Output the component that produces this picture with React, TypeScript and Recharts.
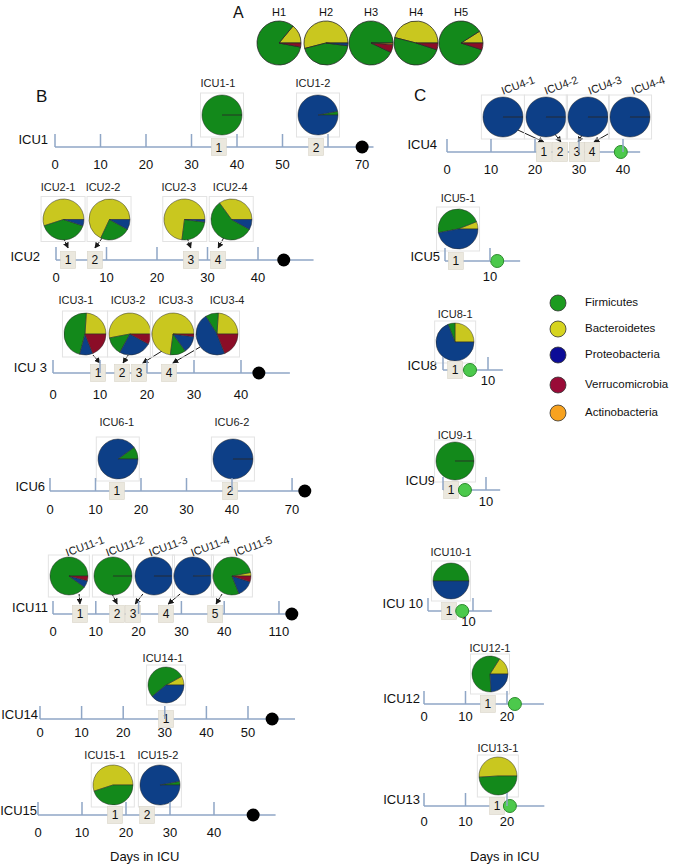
import React from 'react';
import { ComposedChart, XAxis, YAxis, Scatter, Line, PieChart, Pie, Cell } from 'recharts';

// phyla in legend order
const PHYLA = ['Firmicutes', 'Bacteroidetes', 'Proteobacteria', 'Verrucomicrobia', 'Actinobacteria'];
const PIE_COLORS = ['#13891b', '#c9c71f', '#0d3f87', '#8b0d27', '#f29b1c'];
const LEGEND_COLORS = ['#1c9b1f', '#d6d41f', '#0c0c97', '#990b37', '#f7a21f'];
// slices start at 3 o'clock and run counter-clockwise: Bacteroidetes first
const DRAW_ORDER = [1, 0, 2, 3, 4];

// ---- panel A (healthy)
const hLabels = ['H1', 'H2', 'H3', 'H4', 'H5'];
const hComp = [
  [83, 14, 0, 3, 0],
  [44, 54, 2, 0, 0],
  [93, 0, 0, 6, 1],
  [49, 46, 0, 5, 0],
  [86, 9, 0, 5, 0],
];

// ---- panel B
const icu1Ticks = [0, 10, 20, 30, 40, 50, 60];
const icu1LabelDays = [0, 10, 20, 30, 40, 50, 67.5];
const icu1LabelTexts = ['0', '10', '20', '30', '40', '50', '70'];
const icu1Samples = [36, 57.4];
const icu1End = 67.5;
const icu1Titles = ['ICU1-1', 'ICU1-2'];
const icu1Comp = [[100, 0, 0, 0, 0], [3, 0, 97, 0, 0]];

const icu2Ticks = [0, 10, 20, 30, 40];
const icu2LabelTexts = ['0', '10', '20', '30', '40'];
const icu2Samples = [2.4, 7.7, 26.7, 32.1];
const icu2End = 45.1;
const icu2Titles = ['ICU2-1', 'ICU2-2', 'ICU2-3', 'ICU2-4'];
const icu2Comp = [[40, 55, 5, 0, 0], [24, 68, 8, 0, 0], [25, 73, 2, 0, 0], [57, 35, 8, 0, 0]];

const icu3Ticks = [0, 10, 20, 30, 40];
const icu3LabelTexts = ['0', '10', '20', '30', '40'];
const icu3Samples = [9.6, 14.7, 18.3, 24.7];
const icu3End = 43.8;
const icu3Titles = ['ICU3-1', 'ICU3-2', 'ICU3-3', 'ICU3-4'];
const icu3Comp = [[47, 24, 10, 19, 0], [14, 53, 25, 8, 0], [12, 73, 13, 2, 0], [10, 24, 47, 19, 0]];

const icu6Ticks = [0, 10, 20, 30, 40, 53.2];
const icu6LabelTexts = ['0', '10', '20', '30', '40', '70'];
const icu6Samples = [14.7, 39.6];
const icu6End = 56;
const icu6Titles = ['ICU6-1', 'ICU6-2'];
const icu6Comp = [[10, 0, 90, 0, 0], [0, 0, 100, 0, 0]];

const icu11Ticks = [0, 10, 20, 30, 40, 52.8];
const icu11LabelTexts = ['0', '10', '20', '30', '40', '110'];
const icu11Samples = [6.3, 15.0, 18.7, 26.4, 37.9];
const icu11End = 55.8;
const icu11Titles = ['ICU11-1', 'ICU11-2', 'ICU11-3', 'ICU11-4', 'ICU11-5'];
const icu11Comp = [[90, 0, 6, 4, 0], [100, 0, 0, 0, 0], [0, 0, 100, 0, 0], [0.5, 0, 99.5, 0, 0], [78, 3, 14, 5, 0]];

const icu14Ticks = [0, 10, 20, 30, 40, 50];
const icu14LabelTexts = ['0', '10', '20', '30', '40', '50'];
const icu14Samples = [30.3];
const icu14End = 55.8;
const icu14Titles = ['ICU14-1'];
const icu14Comp = [[53, 8, 39, 0, 0]];

const icu15Ticks = [0, 10, 20, 30, 40];
const icu15LabelTexts = ['0', '10', '20', '30', '40'];
const icu15Samples = [17.5, 24.8];
const icu15End = 48.9;
const icu15Titles = ['ICU15-1', 'ICU15-2'];
const icu15Comp = [[45, 55, 0, 0, 0], [3, 0, 97, 0, 0]];

// ---- panel C
const icu4Ticks = [0, 10, 20, 30, 40];
const icu4LabelTexts = ['0', '10', '20', '30', '40'];
const icu4Samples = [22.0, 25.7, 29.5, 33.0];
const icu4End = 39.5;
const icu4Titles = ['ICU4-1', 'ICU4-2', 'ICU4-3', 'ICU4-4'];
const icu4Comp = [[0, 0, 100, 0, 0], [0, 0, 100, 0, 0], [0, 0, 100, 0, 0], [0, 0, 100, 0, 0]];

const icu5Ticks = [0, 10];
const icu5Samples = [2.4];
const icu5End = 11.6;
const icu5Comp = [[47, 6, 47, 0, 0]];

const icu8Ticks = [0, 10];
const icu8Samples = [2.7];
const icu8End = 6.0;
const icu8Comp = [[6, 25, 69, 0, 0]];

const icu9Ticks = [0, 10];
const icu9Samples = [1.9];
const icu9End = 5.1;
const icu9Comp = [[100, 0, 0, 0, 0]];

const icu10Ticks = [0, 10];
const icu10Samples = [4.7];
const icu10End = 7.6;
const icu10Comp = [[50, 0, 50, 0, 0]];

const icu12Ticks = [0, 10, 20];
const icu12LabelTexts = ['0', '10', '20'];
const icu12Samples = [15.4];
const icu12End = 21.9;
const icu12Comp = [[60, 16, 24, 0, 0]];

const icu13Ticks = [0, 10, 20];
const icu13LabelTexts = ['0', '10', '20'];
const icu13Samples = [17.6];
const icu13End = 20.7;
const icu13Comp = [[49, 51, 0, 0, 0]];

const FONT = '"Liberation Sans", Arial, Helvetica, sans-serif';
const AXIS_COLOR = '#8fa6c6';
const ABOVE = 92;
const BELOW = 30;
const PAD = 40;

type Arrow = [number, number, number, number]; // from day, from height, to day, to height

interface RowSpec {
  name: string;
  tickDays: number[];
  labelDays: number[];
  labelTexts: string[];
  samples: number[];
  end: number;
  titles: string[];
  comps: number[][];
  x0: number;
  k: number;
  axisY: number;
  dMax: number;
  pieX: number[];
  pieY: number;
  r: number;
  titleY: number;
  titleDx: number[];
  rot: number;
  arrows: Arrow[];
  labelDy: number;
  nameRight: number;
  nameY: number;
  green: boolean;
  boxW: number;
  boxH: number;
}

const base = { rot: 0, arrows: [] as Arrow[], green: false, boxW: 15, boxH: 17 };

const ROWS: RowSpec[] = [
  {
    ...base, name: 'ICU1', tickDays: icu1Ticks, labelDays: icu1LabelDays, labelTexts: icu1LabelTexts,
    samples: icu1Samples, end: icu1End, titles: icu1Titles, comps: icu1Comp,
    x0: 55, k: 4.55, axisY: 147, dMax: 70, pieX: [36.7, 57.8], pieY: 32, r: 20, titleY: 64,
    titleDx: [-4, -5], labelDy: 17, nameRight: 48, nameY: 140,
  },
  {
    ...base, name: 'ICU2', tickDays: icu2Ticks, labelDays: icu2Ticks, labelTexts: icu2LabelTexts,
    samples: icu2Samples, end: icu2End, titles: icu2Titles, comps: icu2Comp,
    x0: 56, k: 5.05, axisY: 260, dMax: 51, pieX: [1.4, 10.5, 25.5, 34.7], pieY: 41, r: 20.5, titleY: 73,
    titleDx: [-5, -6, -6, -1], labelDy: 18, nameRight: 40, nameY: 257,
    arrows: [[1.4, 23, 2.4, 12], [9.3, 23, 7.7, 12], [25.9, 23, 26.7, 12], [33.3, 23, 32.1, 12]],
  },
  {
    ...base, name: 'ICU 3', tickDays: icu3Ticks, labelDays: icu3Ticks, labelTexts: icu3LabelTexts,
    samples: icu3Samples, end: icu3End, titles: icu3Titles, comps: icu3Comp,
    x0: 53, k: 4.7, axisY: 373, dMax: 50.4, pieX: [6.8, 16.4, 25.5, 34.9], pieY: 39, r: 21, titleY: 73,
    titleDx: [-9, -2, 3, 10], labelDy: 22, nameRight: 47, nameY: 368,
    arrows: [[8.5, 18, 10, 10], [16, 18, 14.9, 10], [23.2, 22, 19.1, 10], [31.3, 26, 25.5, 10]],
  },
  {
    ...base, name: 'ICU6', tickDays: icu6Ticks, labelDays: icu6Ticks, labelTexts: icu6LabelTexts,
    samples: icu6Samples, end: icu6End, titles: icu6Titles, comps: icu6Comp,
    x0: 50, k: 4.55, axisY: 491, dMax: 56.2, pieX: [14.9, 40.2], pieY: 32, r: 20, titleY: 69,
    titleDx: [-1, -1], labelDy: 19, nameRight: 45, nameY: 487,
  },
  {
    ...base, name: 'ICU11', tickDays: icu11Ticks, labelDays: icu11Ticks, labelTexts: icu11LabelTexts,
    samples: icu11Samples, end: icu11End, titles: icu11Titles, comps: icu11Comp,
    x0: 53, k: 4.28, axisY: 614, dMax: 56.3, pieX: [3.7, 14.0, 23.6, 32.7, 41.8], pieY: 38, r: 19, titleY: 68,
    titleDx: [16, 12, 14, 17, 21], rot: -20, labelDy: 18, nameRight: 48, nameY: 608,
    arrows: [[6.1, 20, 6.3, 10], [13.8, 20, 15, 10], [21, 20, 19.2, 10], [29.7, 20, 26.9, 10], [39.5, 20, 38.1, 10]],
  },
  {
    ...base, name: 'ICU14', tickDays: icu14Ticks, labelDays: icu14Ticks, labelTexts: icu14LabelTexts,
    samples: icu14Samples, end: icu14End, titles: icu14Titles, comps: icu14Comp,
    x0: 40, k: 4.16, axisY: 719, dMax: 61.3, pieX: [30.3], pieY: 34, r: 18, titleY: 61,
    titleDx: [-3], labelDy: 14, nameRight: 38, nameY: 715,
  },
  {
    ...base, name: 'ICU15', tickDays: icu15Ticks, labelDays: icu15Ticks, labelTexts: icu15LabelTexts,
    samples: icu15Samples, end: icu15End, titles: icu15Titles, comps: icu15Comp,
    x0: 38, k: 4.4, axisY: 815, dMax: 54, pieX: [17, 27.7], pieY: 30, r: 20, titleY: 60,
    titleDx: [-8, -2], labelDy: 18, nameRight: 37, nameY: 811,
  },
  {
    ...base, name: 'ICU4', tickDays: icu4Ticks, labelDays: icu4Ticks, labelTexts: icu4LabelTexts,
    samples: icu4Samples, end: icu4End, titles: icu4Titles, comps: icu4Comp,
    x0: 447, k: 4.4, axisY: 152, dMax: 43.9, pieX: [12.7, 22.5, 32.0, 41.6], pieY: 35, r: 20, titleY: 67,
    titleDx: [15, 15, 17, 18], rot: -20, labelDy: 18, nameRight: 437, nameY: 145, green: true, boxW: 15, boxH: 19,
    arrows: [[16.1, 22, 22, 10], [24.5, 18, 25.9, 10], [30.7, 17, 29.8, 10], [37, 19, 33.4, 10]],
  },
  {
    ...base, name: 'ICU5', tickDays: icu5Ticks, labelDays: [10], labelTexts: ['10'],
    samples: icu5Samples, end: icu5End, titles: ['ICU5-1'], comps: icu5Comp,
    x0: 445, k: 4.5, axisY: 261, dMax: 16.7, pieX: [2.9], pieY: 32, r: 20, titleY: 63,
    titleDx: [0], labelDy: 16, nameRight: 440, nameY: 257, green: true,
  },
  {
    ...base, name: 'ICU8', tickDays: icu8Ticks, labelDays: [10], labelTexts: ['10'],
    samples: icu8Samples, end: icu8End, titles: ['ICU8-1'], comps: icu8Comp,
    x0: 443, k: 4.5, axisY: 370, dMax: 13.3, pieX: [2.7], pieY: 28, r: 19, titleY: 56,
    titleDx: [0], labelDy: 11, nameRight: 437, nameY: 366, green: true,
  },
  {
    ...base, name: 'ICU9', tickDays: icu9Ticks, labelDays: [10], labelTexts: ['10'],
    samples: icu9Samples, end: icu9End, titles: ['ICU9-1'], comps: icu9Comp,
    x0: 443, k: 4.3, axisY: 490, dMax: 13.3, pieX: [2.8], pieY: 29, r: 19, titleY: 55,
    titleDx: [0], labelDy: 12, nameRight: 435, nameY: 481, green: true,
  },
  {
    ...base, name: 'ICU 10', tickDays: icu10Ticks, labelDays: [9], labelTexts: ['10'],
    samples: icu10Samples, end: icu10End, titles: ['ICU10-1'], comps: icu10Comp,
    x0: 428, k: 4.5, axisY: 611, dMax: 14.2, pieX: [5.1], pieY: 30, r: 18, titleY: 59,
    titleDx: [0], labelDy: 11, nameRight: 423, nameY: 604, green: true,
  },
  {
    ...base, name: 'ICU12', tickDays: icu12Ticks, labelDays: icu12Ticks, labelTexts: icu12LabelTexts,
    samples: icu12Samples, end: icu12End, titles: ['ICU12-1'], comps: icu12Comp,
    x0: 424, k: 4.15, axisY: 704, dMax: 28.9, pieX: [15.9], pieY: 30, r: 18, titleY: 56,
    titleDx: [0], labelDy: 13, nameRight: 420, nameY: 699, green: true,
  },
  {
    ...base, name: 'ICU13', tickDays: icu13Ticks, labelDays: icu13Ticks, labelTexts: icu13LabelTexts,
    samples: icu13Samples, end: icu13End, titles: ['ICU13-1'], comps: icu13Comp,
    x0: 424, k: 4.15, axisY: 806, dMax: 29, pieX: [17.8], pieY: 30, r: 19, titleY: 58,
    titleDx: [0], labelDy: 16, nameRight: 420, nameY: 800, green: true,
  },
];

function MiniPie({ values, r, stroke = '#2b2b2b', sw = 0.5 }: { values: number[]; r: number; stroke?: string; sw?: number }) {
  const data = DRAW_ORDER.map((i) => ({ name: PHYLA[i], value: values[i], color: PIE_COLORS[i] })).filter((d) => d.value > 0);
  const size = Math.ceil(2 * r + 2);
  return (
    <PieChart width={size} height={size} margin={{ top: 0, right: 0, bottom: 0, left: 0 }}>
      <Pie
        data={data}
        dataKey="value"
        cx="50%"
        cy="50%"
        outerRadius={r}
        startAngle={0}
        endAngle={360}
        stroke={stroke}
        strokeWidth={sw}
        isAnimationActive={false}
      >
        {data.map((d) => (
          <Cell key={d.name} fill={d.color} />
        ))}
      </Pie>
    </PieChart>
  );
}

function Timeline({ s }: { s: RowSpec }) {
  const plotW = s.dMax * s.k;
  const ticks = Array.from(new Set([...s.tickDays, ...s.labelDays])).sort((a, b) => a - b);
  const boxData = s.samples.map((d, i) => ({ x: d, y: 0, n: i + 1 }));
  const pieData = s.pieX.map((d, i) => ({ x: d, y: s.pieY, i }));
  const endData = [{ x: s.end, y: 0 }];

  const renderTick = (p: any) => {
    const { x, y, payload } = p;
    const v = payload.value;
    const li = s.labelDays.indexOf(v);
    return (
      <g>
        {s.tickDays.includes(v) && <line x1={x} x2={x} y1={y - 13} y2={y} stroke={AXIS_COLOR} strokeWidth={1.5} />}
        {li >= 0 && (
          <text x={x} y={y + s.labelDy + 4.5} textAnchor="middle" fontSize={13} fill="#111" fontFamily={FONT}>
            {s.labelTexts[li]}
          </text>
        )}
      </g>
    );
  };

  const renderPie = (p: any) => {
    const { cx, cy, payload } = p;
    const i = payload.i;
    const r = s.r;
    const tx = cx + s.titleDx[i];
    const ty = cy - (s.titleY - s.pieY);
    return (
      <g>
        <rect x={cx - r - 1.5} y={cy - r - 2} width={2 * r + 3} height={2 * r + 4} fill="none" stroke="#e3e3e3" strokeWidth={1} />
        <foreignObject x={cx - r - 1} y={cy - r - 1} width={Math.ceil(2 * r + 2)} height={Math.ceil(2 * r + 2)}>
          <MiniPie values={s.comps[i]} r={r} />
        </foreignObject>
        <text
          x={tx}
          y={ty + 4}
          textAnchor="middle"
          fontSize={11}
          fill="#222"
          fontFamily={FONT}
          transform={s.rot ? `rotate(${s.rot} ${tx} ${ty})` : undefined}
        >
          {s.titles[i]}
        </text>
      </g>
    );
  };

  const renderBox = (p: any) => {
    const { cx, cy, payload } = p;
    return (
      <g>
        <rect x={cx - s.boxW / 2} y={cy - s.boxH / 2} width={s.boxW} height={s.boxH} fill="#ebe8de" stroke="#d9d5c9" strokeWidth={0.6} />
        <text x={cx} y={cy + 4.5} textAnchor="middle" fontSize={12} fill="#111" fontFamily={FONT}>
          {payload.n}
        </text>
      </g>
    );
  };

  const renderEnd = (p: any) => {
    const { cx, cy } = p;
    return s.green ? (
      <circle cx={cx} cy={cy} r={6.5} fill="#4cc94c" stroke="#2c8a2c" strokeWidth={1} />
    ) : (
      <circle cx={cx} cy={cy} r={6.5} fill="#000" />
    );
  };

  return (
    <>
      <div
        style={{
          position: 'absolute',
          left: s.nameRight - 70,
          width: 70,
          top: s.nameY - 9,
          textAlign: 'right',
          fontSize: 13,
          lineHeight: '18px',
          fontFamily: FONT,
          color: '#111',
        }}
      >
        {s.name}
      </div>
      <div style={{ position: 'absolute', left: s.x0 - PAD, top: s.axisY - ABOVE }}>
        <ComposedChart width={plotW + 2 * PAD} height={ABOVE + BELOW} margin={{ top: 0, right: PAD, bottom: 0, left: PAD }}>
          <XAxis
            type="number"
            dataKey="x"
            domain={[0, s.dMax]}
            ticks={ticks}
            interval={0}
            tick={renderTick}
            tickLine={false}
            tickSize={0}
            tickMargin={0}
            axisLine={{ stroke: AXIS_COLOR, strokeWidth: 1.5 }}
            height={BELOW}
          />
          <YAxis hide type="number" dataKey="y" domain={[0, ABOVE]} />
          <Scatter data={pieData} dataKey="y" shape={renderPie} isAnimationActive={false} />
          {s.arrows.map((a, j) => (
            <Line
              key={j}
              data={[{ x: a[0], y: a[1] }, { x: a[2], y: a[3] }]}
              dataKey="y"
              type="linear"
              stroke="#1a1a1a"
              strokeWidth={1}
              dot={false}
              activeDot={false}
              isAnimationActive={false}
              markerEnd="url(#arrowHead)"
            />
          ))}
          <Scatter data={boxData} dataKey="y" shape={renderBox} isAnimationActive={false} />
          <Scatter data={endData} dataKey="y" shape={renderEnd} isAnimationActive={false} />
        </ComposedChart>
      </div>
    </>
  );
}

const textStyle = (left: number, top: number, size: number, extra: React.CSSProperties = {}): React.CSSProperties => ({
  position: 'absolute',
  left,
  top,
  fontSize: size,
  fontFamily: FONT,
  color: '#111',
  lineHeight: 1,
  whiteSpace: 'nowrap',
  ...extra,
});

export default function App() {
  const hCx = [24, 71, 116, 161, 206];
  return (
    <div style={{ position: 'absolute', left: 0, top: 0, width: 680, height: 866, background: '#fff', overflow: 'hidden' }}>
      <svg width={0} height={0} style={{ position: 'absolute' }}>
        <defs>
          <marker id="arrowHead" viewBox="0 0 10 10" refX="9" refY="5" markerWidth="6" markerHeight="6" orient="auto">
            <path d="M0,0 L10,5 L0,10 z" fill="#1a1a1a" />
          </marker>
        </defs>
      </svg>

      {/* panel letters */}
      <div style={textStyle(233, 5, 16)}>A</div>
      <div style={textStyle(36, 88, 17)}>B</div>
      <div style={textStyle(414, 87, 17)}>C</div>

      {/* panel A: healthy controls */}
      {hLabels.map((h, i) => (
        <div key={h} style={textStyle(255 + hCx[i] - 15, 7, 11, { width: 30, textAlign: 'center' })}>
          {h}
        </div>
      ))}
      <div style={{ position: 'absolute', left: 255, top: 19 }}>
        <PieChart width={232} height={48} margin={{ top: 0, right: 0, bottom: 0, left: 0 }}>
          {hComp.map((c, i) => {
            const data = DRAW_ORDER.map((j) => ({ name: PHYLA[j], value: c[j], color: PIE_COLORS[j] })).filter((d) => d.value > 0);
            return (
              <Pie
                key={hLabels[i]}
                data={data}
                dataKey="value"
                cx={hCx[i]}
                cy={24}
                outerRadius={22}
                startAngle={0}
                endAngle={360}
                stroke="#2a2a2a"
                strokeWidth={0.8}
                isAnimationActive={false}
              >
                {data.map((d) => (
                  <Cell key={d.name} fill={d.color} />
                ))}
              </Pie>
            );
          })}
        </PieChart>
      </div>

      {ROWS.map((r) => (
        <Timeline key={r.name} s={r} />
      ))}

      {/* legend */}
      {PHYLA.map((p, i) => {
        const ys = [303, 329, 355, 385, 413];
        return (
          <React.Fragment key={p}>
            <svg width={20} height={20} style={{ position: 'absolute', left: 548, top: ys[i] - 10 }}>
              <circle cx={10} cy={10} r={8} fill={LEGEND_COLORS[i]} stroke="#333" strokeWidth={0.8} />
            </svg>
            <div style={textStyle(585, ys[i] - 6, 11.5)}>{p}</div>
          </React.Fragment>
        );
      })}

      <div style={textStyle(110, 850, 13)}>Days in ICU</div>
      <div style={textStyle(470, 850, 13)}>Days in ICU</div>
    </div>
  );
}
